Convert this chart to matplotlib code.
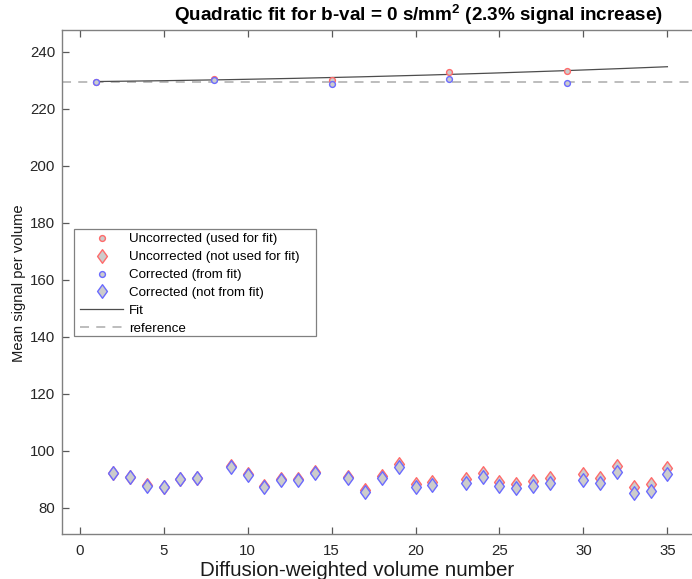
import numpy as np
import matplotlib
matplotlib.use("Agg")
import matplotlib.pyplot as plt
from matplotlib.lines import Line2D
from matplotlib.path import Path
from matplotlib.patches import Rectangle

plt.rcParams['font.family'] = ['Liberation Sans', 'DejaVu Sans']
plt.rcParams['mathtext.fontset'] = 'custom'
plt.rcParams['mathtext.rm'] = 'Liberation Sans'
plt.rcParams['mathtext.bf'] = 'Liberation Sans:bold'

# ---- data ----
vols_b0 = [1, 8, 15, 22, 29]
uncorr_b0 = [229.5, 230.4, 230.1, 232.8, 233.1]
corr_b0 = [229.5, 230.0, 228.7, 230.4, 229.1]
reference = 229.4

vols_dw = [2, 3, 4, 5, 6, 7, 9, 10, 11, 12, 13, 14, 16, 17, 18, 19, 20, 21,
           23, 24, 25, 26, 27, 28, 30, 31, 32, 33, 34, 35]
corr_dw = [92.1, 90.7, 87.7, 87.2, 90.1, 90.3,
           94.3, 91.5, 87.3, 89.8, 89.7, 92.1,
           90.3, 85.6, 90.3, 94.2, 87.4, 88.0,
           88.8, 90.9, 87.7, 87.0, 87.7, 88.6,
           89.7, 88.6, 92.4, 85.2, 86.0, 91.7]
uncorr_dw = [92.1, 90.8, 87.8, 87.3, 90.2, 90.4,
             94.6, 91.8, 87.6, 90.2, 90.1, 92.6,
             90.9, 86.2, 91.1, 95.2, 88.4, 89.0,
             90.0, 92.2, 89.0, 88.4, 89.3, 90.3,
             91.7, 90.5, 94.6, 87.3, 88.2, 94.0]

title_text = r'Quadratic fit for b-val = 0 s/mm$^{\mathbf{2}}$ (2.3% signal increase)'
xlabel_text = 'Diffusion-weighted volume number'
ylabel_text = 'Mean signal per volume'
legend_labels = ['Uncorrected (used for fit)', 'Uncorrected (not used for fit)',
                 'Corrected (from fit)', 'Corrected (not from fit)', 'Fit', 'reference']

# ---- fit (quadratic through uncorrected b0 points) ----
coef = np.polyfit(vols_b0, uncorr_b0, 2)
fit_x = np.linspace(min(vols_b0), max(vols_dw), 200)
fit_y = np.polyval(coef, fit_x)

# ---- figure ----
W, H = 692, 579
fig = plt.figure(figsize=(W / 100, H / 100), dpi=100)
L, R, T, B = 62, 701, 30, 534.3
ax = fig.add_axes([L / W, 1 - B / H, (R - L) / W, (B - T) / H])

diamond = Path([(0, 1), (0.72, 0), (0, -1), (-0.72, 0), (0, 1)],
               [Path.MOVETO, Path.LINETO, Path.LINETO, Path.LINETO, Path.CLOSEPOLY])

red = (1.0, 0.42, 0.42)
blue = (0.42, 0.42, 1.0)
gray_face = (0.8, 0.8, 0.8)
fit_c = (0.3, 0.3, 0.3)
ref_c = (0.72, 0.72, 0.72)

ax.axhline(reference, color=ref_c, lw=1.3, ls=(0, (5, 4)), zorder=1)
ax.plot(fit_x, fit_y, color=fit_c, lw=0.9, zorder=2)

ax.plot(vols_b0, uncorr_b0, ls='none', marker='o', ms=4.2, mfc=gray_face,
        mec=red, mew=1.0, zorder=3)
ax.plot(vols_dw, uncorr_dw, ls='none', marker=diamond, ms=9.8, mfc=gray_face,
        mec=red, mew=1.0, zorder=3)
ax.plot(vols_b0, corr_b0, ls='none', marker='o', ms=4.2, mfc=gray_face,
        mec=blue, mew=1.0, zorder=4)
ax.plot(vols_dw, corr_dw, ls='none', marker=diamond, ms=9.8, mfc=gray_face,
        mec=blue, mew=1.0, zorder=4)

ax.set_xlim(-1.05, 37)
ax.set_ylim(70.67, 247.6)
ax.set_xticks(np.arange(0, 40, 5))
ax.set_yticks(np.arange(80, 241, 20))

spine_c = (0.5, 0.5, 0.5)
for s in ax.spines.values():
    s.set_color(spine_c)
    s.set_linewidth(1.0)
ax.tick_params(direction='in', length=5, width=0.9, color=(0.35, 0.35, 0.35),
               labelsize=10.8, labelcolor=(0.15, 0.15, 0.15),
               top=True, right=True)
ax.tick_params(axis='x', pad=7)
ax.tick_params(axis='y', pad=5)

fig.text(418 / W, 1 - 15 / H, title_text, ha='center', va='center',
         fontsize=13.6, fontweight='bold', color='black')
fig.text(357 / W, 1 - 570 / H, xlabel_text, ha='center', va='center',
         fontsize=14.8, color=(0.1, 0.1, 0.1))
fig.text(19 / W, 1 - 283 / H, ylabel_text, ha='center', va='center',
         rotation=90, fontsize=10.6, color=(0.1, 0.1, 0.1))

handles = [
    Line2D([], [], ls='none', marker='o', ms=4.2, mfc=gray_face, mec=red, mew=1.0),
    Line2D([], [], ls='none', marker=diamond, ms=9.8, mfc=gray_face, mec=red, mew=1.0),
    Line2D([], [], ls='none', marker='o', ms=4.2, mfc=gray_face, mec=blue, mew=1.0),
    Line2D([], [], ls='none', marker=diamond, ms=9.8, mfc=gray_face, mec=blue, mew=1.0),
    Line2D([], [], color=fit_c, lw=0.9),
    Line2D([], [], color=ref_c, lw=1.3, ls=(0, (5, 4))),
]
# legend frame (MATLAB-style box)
frame = Rectangle((74 / W, 1 - 336 / H), (316 - 74) / W, (336 - 229) / H,
                  transform=fig.transFigure, facecolor='white',
                  edgecolor=spine_c, lw=0.9, zorder=5, clip_on=False)
ax.add_patch(frame)
leg = ax.legend(handles, legend_labels, loc='upper left',
                bbox_to_anchor=(80 / W, 1 - 233 / H), bbox_transform=fig.transFigure,
                fontsize=9.6, frameon=False,
                handlelength=3.23, handletextpad=0.45, labelspacing=0.42,
                borderpad=0.0, borderaxespad=0)
leg.set_zorder(6)

fig.savefig('out.png', dpi=100)
